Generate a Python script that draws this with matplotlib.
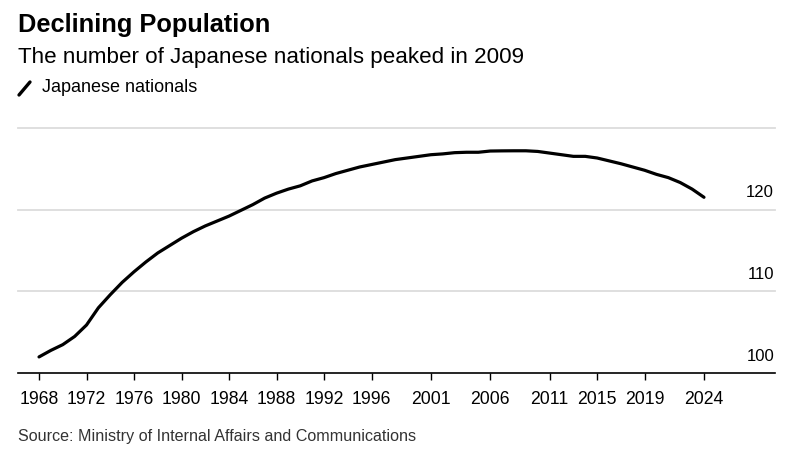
import numpy as np
import matplotlib
matplotlib.use("Agg")
import matplotlib.pyplot as plt
from matplotlib.lines import Line2D
import matplotlib.transforms as mtransforms

plt.rcParams['font.family'] = ['Liberation Sans', 'DejaVu Sans']

# Japanese nationals, millions
years = list(range(1968, 2025))
population = [
    102.0, 102.8, 103.5, 104.5, 105.9, 108.0, 109.6, 111.1, 112.4, 113.6,
    114.7, 115.6, 116.5, 117.3, 118.0, 118.6, 119.2, 119.9, 120.6, 121.4,
    122.0, 122.5, 122.9, 123.5, 123.9, 124.4, 124.8, 125.2, 125.5, 125.8,
    126.1, 126.3, 126.5, 126.7, 126.8, 126.95, 127.0, 127.0, 127.15, 127.17,
    127.18, 127.18, 127.1, 126.9, 126.7, 126.5, 126.5, 126.3, 125.95, 125.6,
    125.2, 124.8, 124.3, 123.9, 123.3, 122.5, 121.5,
]
xticks = [1968, 1972, 1976, 1980, 1984, 1988, 1992, 1996, 2001, 2006, 2011, 2015, 2019, 2024]
ylabels = [100, 110, 120]
grid_levels = [110, 120, 130]

fig = plt.figure(figsize=(7.96, 4.53), dpi=100)
W, H = 796, 453
ax = fig.add_axes([18 / W, 1 - 373.3 / H, (775 - 18) / W, (373.3 - 127.7) / H])

ax.set_xlim(1966.23, 2029.98)
ax.set_ylim(100, 130)

for g in grid_levels:
    ax.axhline(g, color='#dcdcdc', lw=1.3, zorder=1, clip_on=False)

ax.plot(years, population, color='black', lw=2.3, solid_capstyle='round',
        solid_joinstyle='round', zorder=3)

for s in ['top', 'right', 'left']:
    ax.spines[s].set_visible(False)
ax.spines['bottom'].set_color('black')
ax.spines['bottom'].set_linewidth(1.2)

ax.set_yticks([])
ax.set_xticks(xticks)
ax.set_xticklabels([str(t) for t in xticks], fontsize=12.7)
ax.tick_params(axis='x', length=5, width=1, color='black', pad=8)

# y labels sit above their gridlines, right-aligned
off = mtransforms.offset_copy(ax.transData, fig=fig, x=0, y=17, units='dots')
for v in ylabels:
    ax.text(2029.9, v, str(v), transform=off, ha='right', va='center',
            fontsize=12, color='black')

fig.text(18 / W, 1 - 25 / H, 'Declining Population', fontsize=18.3,
         fontweight='bold', ha='left', va='center')
fig.text(18 / W, 1 - 58 / H, 'The number of Japanese nationals peaked in 2009',
         fontsize=16.1, ha='left', va='center')
fig.add_artist(Line2D([19 / W, 30 / W], [1 - 95 / H, 1 - 82 / H], color='black',
                      lw=2.4, solid_capstyle='round'))
fig.text(42 / W, 1 - 88 / H, 'Japanese nationals', fontsize=13,
         ha='left', va='center')
fig.text(18 / W, 1 - 437 / H, 'Source: Ministry of Internal Affairs and Communications',
         fontsize=11.6, ha='left', va='center', color='#333333')

fig.savefig('out.png', dpi=100)
